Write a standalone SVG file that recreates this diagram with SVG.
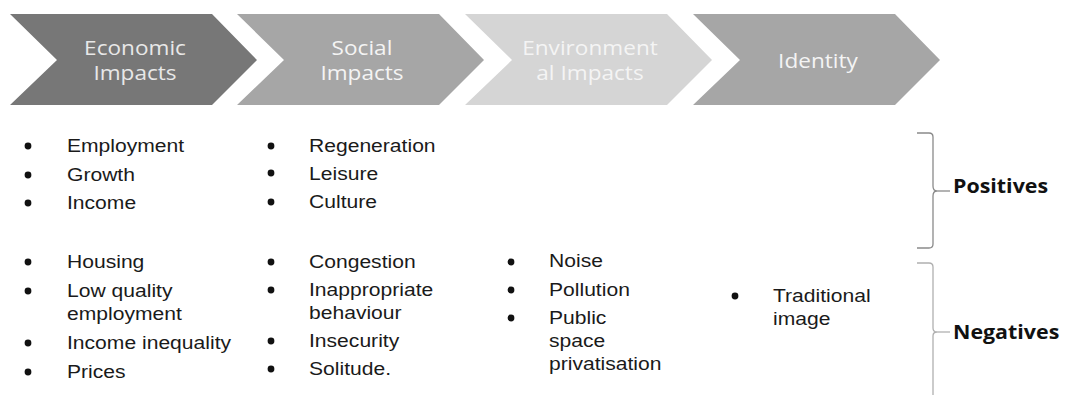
<svg xmlns="http://www.w3.org/2000/svg" width="1065" height="395" viewBox="0 0 1065 395">
<style>
.lab{font-family:"Open Sans","Noto Sans",sans-serif;font-size:20px;fill:#f4f4f4;text-anchor:middle}
.it{font-family:"Liberation Sans",Arial,sans-serif;font-size:18.5px;fill:#1a1a1a}
.bul{fill:#111}
.br{fill:none;stroke:#8a8a8a;stroke-width:1.3}
.brl{fill:none;stroke:#b0b0b0;stroke-width:1.3}
.bl{font-family:"Open Sans","Noto Sans",sans-serif;font-weight:bold;font-size:20px;fill:#111}
</style>
<rect width="1065" height="395" fill="#ffffff"/>
<g id="economic">
<path d="M10,14 L212,14 L257,60 L212,105 L10,105 L57,60 Z" fill="#777777"/>
<g transform="translate(135 0) scale(1.13 1)"><text class="lab" x="0" y="55" style="fill:#e8e8e8">Economic</text><text class="lab" x="0" y="80" style="fill:#e8e8e8">Impacts</text></g>
</g>
<g id="social">
<path d="M237,14 L439,14 L484,60 L439,105 L237,105 L284,60 Z" fill="#a6a6a6"/>
<g transform="translate(362 0) scale(1.13 1)"><text class="lab" x="0" y="55">Social</text><text class="lab" x="0" y="80">Impacts</text></g>
</g>
<g id="environmental">
<path d="M465,14 L667,14 L712,60 L667,105 L465,105 L512,60 Z" fill="#d5d5d5"/>
<g transform="translate(590 0) scale(1.13 1)"><text class="lab" x="0" y="55">Environment</text><text class="lab" x="0" y="80">al Impacts</text></g>
</g>
<g id="identity">
<path d="M693,14 L895,14 L940,60 L895,105 L693,105 L740,60 Z" fill="#a6a6a6"/>
<g transform="translate(818 0) scale(1.13 1)"><text class="lab" x="0" y="68">Identity</text></g>
</g>
<g id="col-economic">
<circle class="bul" cx="28" cy="146" r="3.4"/><circle class="bul" cx="28" cy="175" r="3.4"/><circle class="bul" cx="28" cy="203" r="3.4"/>
<circle class="bul" cx="28" cy="262" r="3.4"/><circle class="bul" cx="28" cy="291" r="3.4"/><circle class="bul" cx="28" cy="343" r="3.4"/><circle class="bul" cx="28" cy="372" r="3.4"/>
<g transform="translate(67 0) scale(1.14 1)">
<text class="it" x="0" y="152">Employment</text>
<text class="it" x="0" y="181">Growth</text>
<text class="it" x="0" y="209">Income</text>
<text class="it" x="0" y="268">Housing</text>
<text class="it" x="0" y="297">Low quality</text>
<text class="it" x="0" y="320">employment</text>
<text class="it" x="0" y="349">Income inequality</text>
<text class="it" x="0" y="378">Prices</text>
</g>
</g>
<g id="col-social">
<circle class="bul" cx="271" cy="146" r="3.4"/><circle class="bul" cx="271" cy="173" r="3.4"/><circle class="bul" cx="271" cy="202" r="3.4"/>
<circle class="bul" cx="271" cy="262" r="3.4"/><circle class="bul" cx="271" cy="290" r="3.4"/><circle class="bul" cx="271" cy="341" r="3.4"/><circle class="bul" cx="271" cy="369" r="3.4"/>
<g transform="translate(309 0) scale(1.14 1)">
<text class="it" x="0" y="152">Regeneration</text>
<text class="it" x="0" y="180">Leisure</text>
<text class="it" x="0" y="208">Culture</text>
<text class="it" x="0" y="268">Congestion</text>
<text class="it" x="0" y="296">Inappropriate</text>
<text class="it" x="0" y="319">behaviour</text>
<text class="it" x="0" y="347">Insecurity</text>
<text class="it" x="0" y="375">Solitude.</text>
</g>
</g>
<g id="col-environmental">
<circle class="bul" cx="511" cy="262" r="3.4"/><circle class="bul" cx="511" cy="290" r="3.4"/><circle class="bul" cx="511" cy="318" r="3.4"/>
<g transform="translate(549 0) scale(1.14 1)">
<text class="it" x="0" y="267">Noise</text>
<text class="it" x="0" y="296">Pollution</text>
<text class="it" x="0" y="324">Public</text>
<text class="it" x="0" y="347">space</text>
<text class="it" x="0" y="370">privatisation</text>
</g>
</g>
<g id="col-identity">
<circle class="bul" cx="735" cy="296" r="3.4"/>
<g transform="translate(773 0) scale(1.14 1)">
<text class="it" x="0" y="302">Traditional</text>
<text class="it" x="0" y="325">image</text>
</g>
</g>
<g id="positives">
<path class="br" d="M917,133 L929,133 Q933,133 933,137 L933,186 Q933,191 937,191 Q933,191 933,196 L933,244 Q933,248 929,248 L917,248"/>
<line class="br" x1="937" y1="191" x2="950" y2="191"/>
<g transform="translate(953 0) scale(1.07 1)"><text class="bl" x="0" y="193">Positives</text></g>
</g>
<g id="negatives">
<path class="brl" d="M917,263 L929,263 Q933,263 933,267 L933,328 Q933,332 937,332 Q933,332 933,336 L933,395"/>
<line class="brl" x1="937" y1="332" x2="950" y2="332"/>
<g transform="translate(953 0) scale(1.07 1)"><text class="bl" x="0" y="339">Negatives</text></g>
</g>
</svg>
